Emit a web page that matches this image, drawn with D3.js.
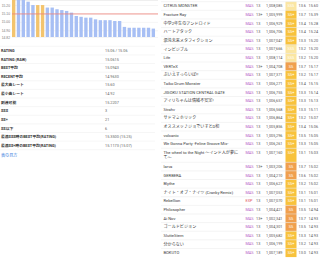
<!doctype html>
<html lang="ja">
<head>
<meta charset="utf-8">
<title>BEST枠</title>
<style>
  html, body { margin: 0; padding: 0; background: #fff; }
  body { width: 320px; height: 260px; overflow: hidden; }
  svg { display: block; font-family: Roboto, "Noto Sans CJK JP", "Noto Sans", sans-serif; }
</style>
</head>
<body>
<svg id="svg" width="320" height="260" viewBox="0 0 320 260"></svg>
<script src="https://cdn.jsdelivr.net/npm/d3@7"></script>
<script>
// ---- data ----
var ratings = [15.60, 15.39, 15.28, 15.24, 15.20, 15.20, 15.20, 15.17, 15.17, 15.15,
               15.14, 15.13, 15.11, 15.07, 15.06, 15.05, 15.05, 15.03, 15.02, 15.02,
               15.02, 15.01, 15.01, 14.94, 14.93, 14.93, 14.93, 14.93, 14.93, 14.92];
var ranks = ["SSS", "SS+", "SS+", "SS+", "SS+", "SSS", "SSS", "SS", "SS+", "SS+",
             "SS+", "SS+", "SS+", "SS+", "SS+", "SS+", "SS+", "SS+", "SS", "SS",
             "SS+", "SS+", "SS+", "SS", "SS", "SS", "SS+", "SS+", "SS+", "SS+"];
var titles = ["CITRUS MONSTER", "Fracture Ray", "中学2年生のアンドロイド", "ハートアタック",
              "混沌未来メタフィクション", "インビジブル", "Life", "VERTeX", "ぶいえすっらいぼ!!",
              "Taiko Drum Monster", "JIGOKU STATION CENTRAL GATE", "アイリちゃんは情緒不安定!",
              "Strahv", "サドマミホリック", "オススメッ♪ジョでいすとD和", "volcanic",
              "We Gonna Party -Feline Groove Mix-", "The wheel to the Night ～インド人が夢にて～",
              "larva", "GERBERA", "Blythe", "ナイト・オブ・ナイツ (Cranky Remix)", "Rebellion",
              "Philosopher", "Ai Nov", "ゴールドビジョン", "SlutteStern", "分からない", "BOKUTO"];
var diffs = ["MAS", "MAS", "MAS", "MAS", "MAS", "MAS", "MAS", "MAS", "MAS", "MAS",
             "MAS", "MAS", "MAS", "MAS", "MAS", "MAS", "MAS", "MAS", "MAS", "MAS",
             "MAS", "MAS", "EXP", "MAS", "MAS", "MAS", "MAS", "MAS", "MAS"];
var levels = ["13", "13+", "13", "13", "13", "13", "13", "13+", "13", "13",
              "13", "13", "13", "13", "13", "13", "13", "13", "13+", "13",
              "13", "13", "13", "13", "13+", "13", "13", "13", "13"];
var scores = ["1,008,085", "1,005,999", "1,006,929", "1,006,706", "1,007,047", "1,007,666",
              "1,008,114", "1,004,708", "1,007,371", "1,006,271", "1,006,755", "1,006,657",
              "1,006,568", "1,006,864", "1,005,856", "1,005,296", "1,006,261", "1,007,160",
              "1,003,206", "1,004,210", "1,006,627", "1,007,053", "1,007,070", "1,004,421",
              "1,002,341", "1,004,301", "1,005,682", "1,006,199", "1,007,189"];
var consts = ["13.6", "13.7", "13.4", "13.4", "13.3", "13.2", "13.2", "13.7", "13.2", "13.4",
              "13.3", "13.3", "13.3", "13.2", "13.4", "13.5", "13.3", "13.1", "13.7", "13.6",
              "13.2", "13.1", "13.1", "13.5", "13.7", "13.5", "13.3", "13.2", "13.0"];

var yTicks = [14.82, 14.90, 15.00, 15.10, 15.20];
var bestAverage = 15.0943;

var statLabels = ["RATING", "RATING (RAW)", "BEST平均", "RECENT平均", "最大曲レート", "最小曲レート",
                  "到達可能", "SSS", "SS+", "SS以下", "最適SSS時のBEST平均(RATING)",
                  "最適SS+時のBEST平均(RATING)"];
var statValues = ["15.06 / 15.06", "15.0615", "15.0943", "14.9630", "15.60", "14.92",
                  "15.2207", "3", "21", "6", "15.3500 (15.25)", "15.1173 (15.07)"];

// ---- styles ----
var rankFill = { "SSS": "#fbe6a2", "SS+": "#f8c23c", "SS": "#f0a04e" };
var diffColor = { "MAS": "#b65ac6", "EXP": "#e2505a" };
var svg = d3.select("#svg");

// ---- bar chart ----
var x = d3.scaleBand().domain(d3.range(ratings.length)).range([11.5, 155.5]).paddingInner(0.3).paddingOuter(0.1);
var y = d3.scaleLinear().domain([14.82, 15.26]).range([37, 0]).clamp(true);

svg.append("line")
  .attr("x1", 12).attr("x2", 158).attr("y1", 0.5).attr("y2", 0.5)
  .attr("stroke", "#e4e4e4").attr("stroke-width", 0.6);

var axis = svg.append("g")
  .attr("transform", "translate(12,0)")
  .call(d3.axisLeft(y).tickValues(yTicks).tickSize(-146).tickPadding(2).tickFormat(d3.format(".2f")));
axis.select(".domain").remove();
axis.selectAll("line").attr("stroke", "#ebebeb").attr("stroke-width", 0.5);
axis.selectAll("text").attr("font-size", 3.3).attr("fill", "#777").attr("font-family", null);

svg.append("g").selectAll("rect")
  .data(ratings)
  .join("rect")
  .attr("x", function(d, i) { return x(i); })
  .attr("width", x.bandwidth())
  .attr("y", function(d) { return y(d); })
  .attr("height", function(d) { return y(14.82) - y(d); })
  .attr("fill", function(d, i) { return ranks[i] == "SSS" ? "#f3c46e" : "#a7bff4"; });

svg.append("line")
  .attr("x1", 12).attr("x2", 158)
  .attr("y1", y(bestAverage)).attr("y2", y(bestAverage))
  .attr("stroke", "#f08178").attr("stroke-width", 0.8);

// ---- stats table ----
var rowH = 8.62;
var statTop = 46.3;
var stats = svg.append("g").attr("font-size", 3.8);
stats.selectAll("line")
  .data(d3.range(statLabels.length + 1))
  .join("line")
  .attr("x1", 0).attr("x2", 155)
  .attr("y1", function(i) { return statTop + i * rowH; })
  .attr("y2", function(i) { return statTop + i * rowH; })
  .attr("stroke", "#ececec").attr("stroke-width", 0.5);
stats.selectAll("text.label")
  .data(statLabels)
  .join("text")
  .attr("class", "label")
  .attr("x", 1)
  .attr("y", function(d, i) { return statTop + i * rowH + rowH / 2; })
  .attr("dy", "0.35em")
  .attr("font-weight", "bold")
  .attr("fill", "#333")
  .text(function(d) { return d; });
stats.selectAll("text.value")
  .data(statValues)
  .join("text")
  .attr("class", "value")
  .attr("x", 105)
  .attr("y", function(d, i) { return statTop + i * rowH + rowH / 2; })
  .attr("dy", "0.35em")
  .attr("fill", "#666")
  .text(function(d) { return d; });

svg.append("text")
  .attr("x", 1).attr("y", 156).attr("dy", "0.35em")
  .attr("font-size", 4.1).attr("fill", "#3d7fe0")
  .text("表の見方");

// ---- song table ----
var songs = svg.append("g").attr("font-size", 4.1);

// wrap long titles to the title column width
var measure = songs.append("text").attr("visibility", "hidden");
function textWidth(s) { measure.text(s); return measure.node().getComputedTextLength(); }
function wrapTitle(s, maxW) {
  if (textWidth(s) <= maxW) return [s];
  var lines = [], cur = "";
  Array.from(s).forEach(function(ch) {
    if (cur && textWidth(cur + ch) > maxW) { lines.push(cur); cur = ch; }
    else cur += ch;
  });
  lines.push(cur);
  return lines;
}

var lineH = 5.4;
var rows = [];
var rowY = 1.7;
titles.forEach(function(t, i) {
  var lines = wrapTitle(t, 78);
  var h = rowH + (lines.length - 1) * lineH;
  rows.push({ i: i, lines: lines, top: rowY, h: h });
  rowY += h;
});
measure.remove();

var row = songs.selectAll("g.row")
  .data(rows)
  .join("g")
  .attr("class", "row")
  .attr("transform", function(d) { return "translate(0," + d.top + ")"; });

row.append("rect")
  .attr("x", 285.5).attr("width", 11)
  .attr("y", 0).attr("height", function(d) { return d.h; })
  .attr("fill", function(d) { return rankFill[ranks[d.i]]; });

row.append("line")
  .attr("x1", 161).attr("x2", 320).attr("y1", 0).attr("y2", 0)
  .attr("stroke", "#e8e8e8").attr("stroke-width", 0.5);

var firstLine = rowH / 2;

row.append("text")
  .attr("x", 163.5)
  .attr("fill", "#3a3a3a")
  .selectAll("tspan")
  .data(function(d) { return d.lines; })
  .join("tspan")
  .attr("x", 163.5)
  .attr("y", function(d, j) { return firstLine + j * lineH; })
  .attr("dy", "0.35em")
  .text(function(d) { return d; });

function cell(xPos, arr, color, anchor, size) {
  row.append("text")
    .attr("x", xPos)
    .attr("y", firstLine)
    .attr("dy", "0.35em")
    .attr("font-size", size || 3.8)
    .attr("text-anchor", anchor || "start")
    .attr("fill", typeof color == "function" ? function(d) { return color(d.i); } : color)
    .text(function(d) { return arr[d.i]; });
}
cell(245.5, diffs, function(i) { return diffColor[diffs[i]]; });
cell(256, levels, "#555");
cell(266, scores, "#555");
cell(291, ranks, "#fff", "middle");
cell(298.5, consts, "#555");
cell(308.5, ratings.map(d3.format(".2f")), "#555");
</script>
</body>
</html>
